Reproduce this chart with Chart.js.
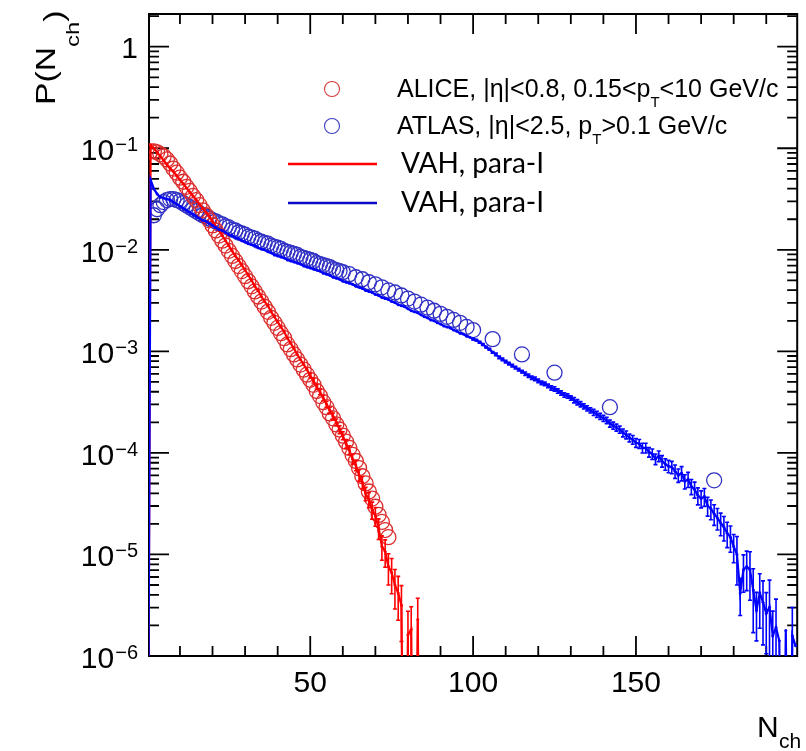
<!DOCTYPE html>
<html>
<head>
<meta charset="utf-8">
<title>P(Nch)</title>
<script src="https://cdn.jsdelivr.net/npm/chart.js@4/dist/chart.umd.min.js"></script>
<style>
  html, body { margin: 0; padding: 0; background: #ffffff; }
  canvas { display: block; }
</style>
</head>
<body>
<canvas id="c" width="806" height="751"></canvas>
<script>
// ---- measured multiplicity distributions (circles) ----
// ALICE, |eta|<0.8, 0.15<pT<10 GeV/c : N_ch = 1 .. 74
const aliceP = [
  9.33e-2, 9.33e-2, 9.12e-2, 8.71e-2, 8.32e-2, 7.76e-2, 7.08e-2, 6.31e-2, 5.75e-2, 5.13e-2,
  4.68e-2, 4.17e-2, 3.80e-2, 3.39e-2, 3.09e-2, 2.75e-2, 2.45e-2, 2.19e-2, 1.95e-2, 1.74e-2,
  1.55e-2, 1.38e-2, 1.23e-2, 1.10e-2, 9.77e-3, 8.71e-3, 7.76e-3, 6.92e-3, 6.17e-3, 5.50e-3,
  4.90e-3, 4.37e-3, 3.89e-3, 3.47e-3, 3.09e-3, 2.75e-3, 2.45e-3, 2.14e-3, 1.91e-3, 1.70e-3,
  1.51e-3, 1.35e-3, 1.17e-3, 1.05e-3, 9.33e-4, 8.32e-4, 7.41e-4, 6.61e-4, 5.89e-4, 5.25e-4,
  4.68e-4, 4.07e-4, 3.63e-4, 3.16e-4, 2.82e-4, 2.45e-4, 2.19e-4, 1.91e-4, 1.70e-4, 1.48e-4,
  1.29e-4, 1.12e-4, 9.55e-5, 8.32e-5, 7.08e-5, 5.89e-5, 5.01e-5, 4.17e-5, 3.55e-5, 2.95e-5,
  2.45e-5, 2.09e-5, 1.74e-5, 1.48e-5
];
const aliceFirstN = 1;

// ATLAS, |eta|<2.5, pT>0.1 GeV/c : variable bin centres
const atlasN = [
  2, 3, 4, 5, 6, 7, 8, 9, 10,
  11, 12, 13, 14, 15, 16, 17, 18, 19, 20,
  21, 22, 23, 24, 25, 26, 27, 28, 29, 30,
  31, 32, 33, 34, 35, 36, 37, 38, 39, 40,
  41, 42, 43, 44, 45, 46, 47, 48, 49, 50,
  51, 52, 53, 54, 55, 56, 57, 58, 59, 60,
  62, 64, 66, 68, 70, 72, 74, 76, 78, 80,
  82, 84, 86, 88, 90, 92, 94, 96, 98, 100,
  106, 115, 125, 142, 174
];
const atlasP = [
  2.19e-2, 2.51e-2, 2.75e-2, 2.95e-2, 3.09e-2, 3.16e-2, 3.16e-2, 3.09e-2, 3.02e-2,
  2.88e-2, 2.75e-2, 2.63e-2, 2.51e-2, 2.40e-2, 2.29e-2, 2.19e-2, 2.14e-2, 2.04e-2, 1.95e-2,
  1.91e-2, 1.82e-2, 1.78e-2, 1.70e-2, 1.66e-2, 1.58e-2, 1.55e-2, 1.48e-2, 1.45e-2, 1.41e-2,
  1.35e-2, 1.32e-2, 1.29e-2, 1.23e-2, 1.20e-2, 1.17e-2, 1.15e-2, 1.10e-2, 1.07e-2, 1.05e-2,
  1.02e-2, 9.77e-3, 9.55e-3, 9.33e-3, 9.12e-3, 8.91e-3, 8.51e-3, 8.32e-3, 8.13e-3, 7.94e-3,
  7.76e-3, 7.41e-3, 7.24e-3, 7.08e-3, 6.92e-3, 6.76e-3, 6.46e-3, 6.31e-3, 6.17e-3, 6.03e-3,
  5.75e-3, 5.37e-3, 5.13e-3, 4.79e-3, 4.57e-3, 4.27e-3, 3.98e-3, 3.80e-3, 3.55e-3, 3.31e-3,
  3.09e-3, 2.88e-3, 2.69e-3, 2.51e-3, 2.34e-3, 2.19e-3, 2.04e-3, 1.91e-3, 1.74e-3, 1.62e-3,
  1.32e-3, 9.33e-4, 6.17e-4, 2.82e-4, 5.37e-5
];

// ---- VAH model histograms (unit bins, N_ch = 0, 1, 2, ...) ----
const vahRed = [
  0,
  1.07e-1, 1.00e-1, 9.12e-2, 8.32e-2, 7.59e-2, 6.92e-2, 6.31e-2, 5.89e-2, 5.37e-2, 4.90e-2,
  4.47e-2, 4.07e-2, 3.72e-2, 3.39e-2, 3.09e-2, 2.82e-2, 2.57e-2, 2.34e-2, 2.14e-2, 1.91e-2,
  1.70e-2, 1.55e-2, 1.38e-2, 1.23e-2, 1.10e-2, 9.77e-3, 8.71e-3, 7.94e-3, 7.08e-3, 6.31e-3,
  5.62e-3, 5.01e-3, 4.37e-3, 3.98e-3, 3.47e-3, 3.09e-3, 2.82e-3, 2.45e-3, 2.19e-3, 1.95e-3,
  1.74e-3, 1.55e-3, 1.35e-3, 1.20e-3, 1.07e-3, 9.33e-4, 8.32e-4, 7.41e-4, 6.61e-4, 5.75e-4,
  5.13e-4, 4.47e-4, 3.98e-4, 3.47e-4, 3.02e-4, 2.63e-4, 2.29e-4, 2.00e-4, 1.70e-4, 1.48e-4,
  1.23e-4, 1.07e-4, 8.71e-5, 7.59e-5, 6.03e-5, 5.13e-5, 3.98e-5, 3.47e-5, 2.75e-5, 2.40e-5,
  1.82e-5, 1.20e-5, 1.07e-5, 7.59e-6, 6.61e-6, 5.01e-6, 4.17e-6, 3.16e-6, 0, 1.62e-6,
  1.82e-6, 0, 2.29e-6, 0
];
// relative statistical errors of the red histogram, from N_ch = 50
const vahRedErrFrom = 50;
const vahRedErr = [
  .05, .05, .05, .06, .06, .07, .07, .08, .08, .09,
  .09, .10, .10, .11, .12, .13, .14, .15, .17, .19,
  .21, .23, .27, .30, .34, .38, .42, .46, .56, 0,
  .70, .68, 0, .62, 0
];

const vahBlue = [
  0,
  4.90e-2, 3.98e-2, 3.55e-2, 3.31e-2, 3.24e-2, 3.16e-2, 3.09e-2, 2.95e-2, 2.82e-2, 2.69e-2,
  2.57e-2, 2.45e-2, 2.34e-2, 2.24e-2, 2.14e-2, 2.04e-2, 1.95e-2, 1.91e-2, 1.82e-2, 1.74e-2,
  1.66e-2, 1.58e-2, 1.55e-2, 1.48e-2, 1.41e-2, 1.38e-2, 1.32e-2, 1.29e-2, 1.23e-2, 1.20e-2,
  1.15e-2, 1.12e-2, 1.10e-2, 1.05e-2, 1.02e-2, 1.00e-2, 9.55e-3, 9.33e-3, 8.91e-3, 8.71e-3,
  8.51e-3, 8.32e-3, 7.94e-3, 7.76e-3, 7.59e-3, 7.41e-3, 7.24e-3, 6.92e-3, 6.76e-3, 6.61e-3,
  6.46e-3, 6.31e-3, 6.17e-3, 5.89e-3, 5.75e-3, 5.62e-3, 5.37e-3, 5.25e-3, 5.13e-3, 4.90e-3,
  4.79e-3, 4.68e-3, 4.57e-3, 4.37e-3, 4.27e-3, 4.17e-3, 3.98e-3, 3.89e-3, 3.80e-3, 3.63e-3,
  3.55e-3, 3.39e-3, 3.31e-3, 3.24e-3, 3.09e-3, 3.02e-3, 2.88e-3, 2.82e-3, 2.75e-3, 2.63e-3,
  2.51e-3, 2.45e-3, 2.40e-3, 2.29e-3, 2.19e-3, 2.14e-3, 2.04e-3, 2.00e-3, 1.91e-3, 1.86e-3,
  1.78e-3, 1.74e-3, 1.70e-3, 1.62e-3, 1.58e-3, 1.51e-3, 1.48e-3, 1.41e-3, 1.38e-3, 1.32e-3,
  1.29e-3, 1.23e-3, 1.17e-3, 1.10e-3, 1.05e-3, 9.77e-4, 9.33e-4, 8.71e-4, 8.32e-4, 7.94e-4,
  7.59e-4, 7.24e-4, 6.92e-4, 6.61e-4, 6.31e-4, 6.03e-4, 5.75e-4, 5.50e-4, 5.37e-4, 5.13e-4,
  4.90e-4, 4.79e-4, 4.57e-4, 4.37e-4, 4.27e-4, 4.07e-4, 3.89e-4, 3.72e-4, 3.63e-4, 3.47e-4,
  3.31e-4, 3.16e-4, 3.02e-4, 2.88e-4, 2.75e-4, 2.63e-4, 2.51e-4, 2.40e-4, 2.29e-4, 2.19e-4,
  2.09e-4, 1.95e-4, 1.86e-4, 1.78e-4, 1.70e-4, 1.58e-4, 1.51e-4, 1.41e-4, 1.35e-4, 1.26e-4,
  1.23e-4, 1.12e-4, 1.12e-4, 1.02e-4, 9.77e-5, 8.71e-5, 9.33e-5, 8.32e-5, 7.76e-5, 7.41e-5,
  7.24e-5, 6.61e-5, 6.03e-5, 6.31e-5, 5.25e-5, 5.50e-5, 4.68e-5, 4.37e-5, 3.80e-5, 3.55e-5,
  3.72e-5, 3.02e-5, 2.82e-5, 2.51e-5, 2.29e-5, 2.04e-5, 1.86e-5, 1.62e-5, 1.48e-5, 1.20e-5,
  1.00e-5, 4.17e-6, 7.08e-6, 7.59e-6, 7.08e-6, 4.47e-6, 2.82e-6, 4.17e-6, 3.39e-6, 2.63e-6,
  3.02e-6, 1.58e-6, 1.91e-6, 1.41e-6, 0, 1.78e-6, 0, 1.58e-6, 1.26e-6
];
// relative statistical errors of the blue histogram, from N_ch = 100
const vahBlueErrFrom = 100;
const vahBlueErr = [
  .02, .02, .02, .02, .02, .02, .02, .03, .03, .03,
  .03, .03, .03, .03, .03, .03, .04, .04, .04, .04,
  .04, .04, .04, .04, .05, .05, .05, .05, .05, .05,
  .05, .06, .06, .06, .06, .06, .06, .07, .07, .07,
  .07, .07, .08, .08, .08, .08, .09, .09, .09, .10,
  .10, .10, .11, .11, .11, .12, .12, .12, .13, .13,
  .14, .14, .15, .15, .16, .16, .17, .17, .18, .19,
  .19, .20, .21, .22, .23, .24, .25, .27, .28, .29,
  .31, .50, .40, .40, .42, .50, .62, .50, .55, .62,
  .60, .85, .75, .90, 0, .78, 0, .82, .90, 0
];

// ---- axes ----
const xRange = [0.5, 199.5];
const yRange = [1e-6, 2.1];
const xTickLabels = [50, 100, 150];
const xMinorStep = 10;
const yDecades = [0, -1, -2, -3, -4, -5, -6];

// ---- legend entries ----
const legendMarkers = [
  { parts: [['ALICE, |η|<0.8, 0.15<p', 0], ['T', 1], ['<10 GeV/c', 0]], color: '#d43c3c' },
  { parts: [['ATLAS, |η|<2.5, p', 0], ['T', 1], ['>0.1 GeV/c', 0]], color: '#3c3cc0' }
];
const legendLines = [
  { text: 'VAH, para-I', color: '#ff0000' },
  { text: 'VAH, para-I', color: '#0a0ac8' }
];

const RED = '#ff0000';
const BLUE = '#0000ff';
const FLOOR = 1e-9; // empty bins fall below the axis floor

const histPoints = arr => arr.map((v, i) => ({ x: i, y: v > 0 ? v : FLOOR }));
const errorsFor = (arr, from, rel) => arr.map((v, i) => (i >= from && v > 0) ? (rel[i - from] || 0) : 0);

const SANS = '"Liberation Sans", Arial, sans-serif';

// ROOT-like frame, inner ticks, error bars, labels and legend
const rootStyle = {
  id: 'rootStyle',
  beforeDatasetsDraw(chart) {
    const { ctx, chartArea: a, scales: { x, y } } = chart;
    ctx.save();
    ctx.strokeStyle = '#000';
    ctx.lineWidth = 1.8;
    ctx.beginPath();
    // x ticks, bottom and top
    for (let v = xMinorStep; v < xRange[1]; v += xMinorStep) {
      const len = xTickLabels.includes(v) ? 20 : 10;
      const px = x.getPixelForValue(v);
      ctx.moveTo(px, a.bottom); ctx.lineTo(px, a.bottom - len);
      ctx.moveTo(px, a.top); ctx.lineTo(px, a.top + len);
    }
    // y ticks, left and right
    yDecades.forEach(d => {
      for (let m = 1; m <= 9; m++) {
        const v = m * Math.pow(10, d);
        if (v > yRange[1] || v < yRange[0]) continue;
        const len = m === 1 ? 20 : 10;
        const py = y.getPixelForValue(v);
        ctx.moveTo(a.left, py); ctx.lineTo(a.left + len, py);
        ctx.moveTo(a.right, py); ctx.lineTo(a.right - len, py);
      }
    });
    ctx.stroke();
    ctx.lineWidth = 2;
    ctx.strokeRect(a.left, a.top, a.right - a.left, a.bottom - a.top);
    ctx.restore();
  },
  afterDatasetDraw(chart, args) {
    const ds = chart.data.datasets[args.index];
    if (!ds.errors) return;
    const { ctx, chartArea: a, scales: { y } } = chart;
    ctx.save();
    ctx.beginPath();
    ctx.rect(a.left, a.top, a.right - a.left, a.bottom - a.top);
    ctx.clip();
    ctx.strokeStyle = ds.borderColor;
    ctx.lineWidth = 1.6;
    ctx.beginPath();
    ds.data.forEach((p, i) => {
      const e = ds.errors[i];
      if (!e) return;
      const px = args.meta.data[i].x;
      const hi = y.getPixelForValue(p.y * (1 + e));
      const lo = e >= 1 ? a.bottom + 10 : y.getPixelForValue(p.y * (1 - e));
      ctx.moveTo(px, hi); ctx.lineTo(px, lo);
      ctx.moveTo(px - 2, hi); ctx.lineTo(px + 2, hi);
      ctx.moveTo(px - 2, lo); ctx.lineTo(px + 2, lo);
    });
    ctx.stroke();
    ctx.restore();
  },
  afterDraw(chart) {
    const { ctx, chartArea: a, scales: { x, y } } = chart;
    ctx.save();
    ctx.fillStyle = '#000';
    ctx.textBaseline = 'alphabetic';

    // x tick labels
    ctx.font = '30px ' + SANS;
    ctx.textAlign = 'center';
    xTickLabels.forEach(v => ctx.fillText(String(v), x.getPixelForValue(v), 692));

    // y tick labels (powers of ten)
    const labelRight = a.left - 11;
    yDecades.forEach(d => {
      const py = y.getPixelForValue(Math.pow(10, d));
      if (d === 0) {
        ctx.font = '30px ' + SANS;
        ctx.textAlign = 'right';
        ctx.fillText('1', labelRight, py + 11);
        return;
      }
      const sup = '\u2212' + (-d);
      ctx.font = '20px ' + SANS;
      const w = ctx.measureText(sup).width;
      ctx.textAlign = 'left';
      ctx.fillText(sup, labelRight - w, py + 3);
      ctx.font = '30px ' + SANS;
      ctx.textAlign = 'right';
      ctx.fillText('10', labelRight - w - 1, py + 12);
    });

    // x axis title
    ctx.textAlign = 'left';
    ctx.font = '30px ' + SANS;
    ctx.fillText('N', 757, 737);
    ctx.font = '21px ' + SANS;
    ctx.fillText('ch', 779, 748);

    // y axis title
    ctx.save();
    ctx.translate(55, 105);
    ctx.rotate(-Math.PI / 2);
    ctx.scale(1.25, 1);
    ctx.font = '27px ' + SANS;
    ctx.fillText('P(N', 0, 0);
    let tx = ctx.measureText('P(N').width;
    ctx.font = '19px ' + SANS;
    ctx.fillText('ch', tx, 24);
    tx += ctx.measureText('ch').width;
    ctx.font = '27px ' + SANS;
    ctx.fillText(')', tx, 8);
    ctx.restore();

    // legend: data markers
    legendMarkers.forEach((item, k) => {
      const cy = 89 + k * 37;
      ctx.strokeStyle = item.color;
      ctx.lineWidth = 1.1;
      ctx.beginPath();
      ctx.arc(332, cy, 7.5, 0, Math.PI * 2);
      ctx.stroke();
      let tx = 397;
      const base = cy + 8;
      item.parts.forEach(([t, sub]) => {
        ctx.font = (sub ? '15px ' : '25px ') + SANS;
        ctx.fillText(t, tx, sub ? base + 10 : base);
        tx += ctx.measureText(t).width;
      });
    });
    // legend: model lines
    legendLines.forEach((item, k) => {
      const ly = 164 + k * 39;
      ctx.strokeStyle = item.color;
      ctx.lineWidth = 2.5;
      ctx.beginPath();
      ctx.moveTo(288, ly); ctx.lineTo(377, ly);
      ctx.stroke();
      ctx.font = '28px Lato, "Open Sans", sans-serif';
      ctx.fillText(item.text, 401, ly + 9);
    });
    ctx.restore();
  }
};

new Chart(document.getElementById('c'), {
  type: 'line',
  data: {
    datasets: [
      {
        label: 'VAH, para-I (ATLAS acceptance)',
        data: histPoints(vahBlue),
        errors: errorsFor(vahBlue, vahBlueErrFrom, vahBlueErr),
        borderColor: BLUE, backgroundColor: BLUE,
        borderWidth: 2.2, pointRadius: 1.5, pointBorderWidth: 0,
        pointBackgroundColor: BLUE, tension: 0, clip: 0, order: 0
      },
      {
        label: 'VAH, para-I (ALICE acceptance)',
        data: histPoints(vahRed),
        errors: errorsFor(vahRed, vahRedErrFrom, vahRedErr),
        borderColor: RED, backgroundColor: RED,
        borderWidth: 2.2, pointRadius: 1.5, pointBorderWidth: 0,
        pointBackgroundColor: RED, tension: 0, clip: 0, order: 1
      },
      {
        label: 'ALICE',
        data: aliceP.map((v, i) => ({ x: aliceFirstN + i, y: v })),
        showLine: false, pointStyle: 'circle', pointRadius: 7.5,
        pointBorderWidth: 1.3, pointBorderColor: '#dc2e2e',
        pointBackgroundColor: 'rgba(0,0,0,0)', order: 2
      },
      {
        label: 'ATLAS',
        data: atlasP.map((v, i) => ({ x: atlasN[i], y: v })),
        showLine: false, pointStyle: 'circle', pointRadius: 7.5,
        pointBorderWidth: 1.3, pointBorderColor: '#3030c4',
        pointBackgroundColor: 'rgba(0,0,0,0)', order: 3
      }
    ]
  },
  options: {
    responsive: false,
    animation: false,
    devicePixelRatio: 1,
    layout: { padding: { left: 149, right: 3, top: 14, bottom: 95 } },
    plugins: { legend: { display: false }, tooltip: { enabled: false } },
    events: [],
    scales: {
      x: { type: 'linear', min: xRange[0], max: xRange[1], display: false },
      y: { type: 'logarithmic', min: yRange[0], max: yRange[1], display: false }
    }
  },
  plugins: [rootStyle]
});
</script>
</body>
</html>
